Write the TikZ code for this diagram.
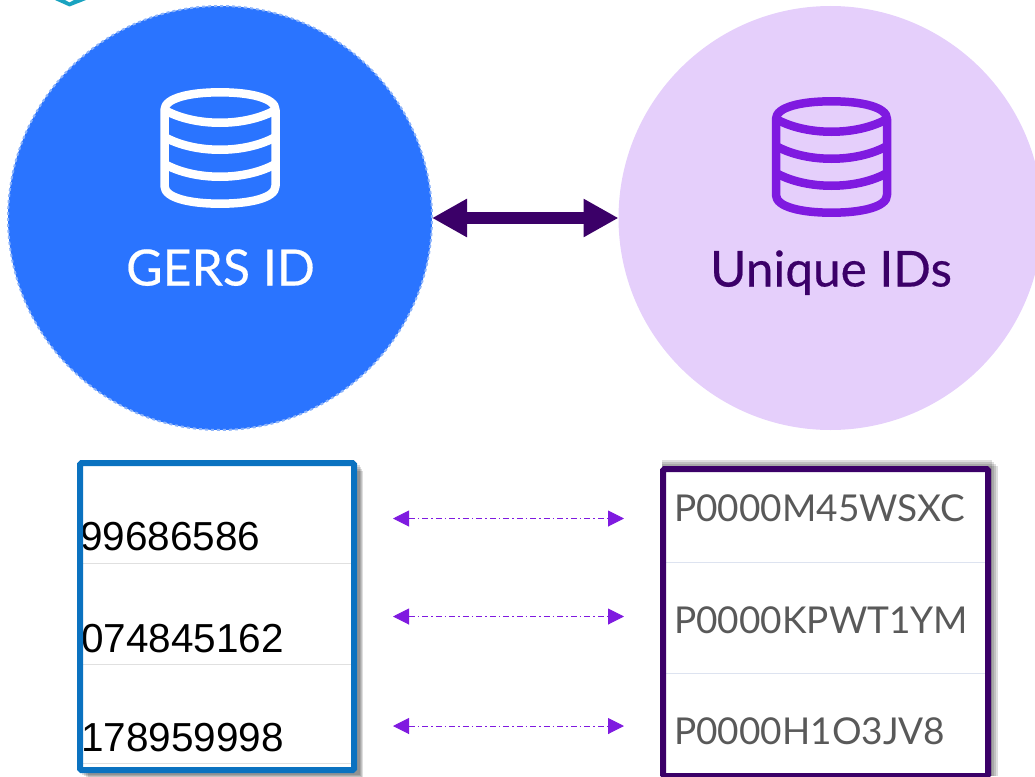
\documentclass[tikz,border=0pt]{standalone}
\usepackage{fontspec}
\setmainfont{Lato}
\newfontfamily\arialf{Liberation Sans}
\newfontfamily\labelf[FakeBold=0.4]{Lato}
\usetikzlibrary{arrows.meta}
\definecolor{gersblue}{HTML}{2A74FF}
\definecolor{gersedge}{HTML}{8DB4FA}
\definecolor{lilac}{HTML}{E5CFFB}
\definecolor{vio}{HTML}{7F1AE0}
\definecolor{deep}{HTML}{3B0068}
\definecolor{boxblue}{HTML}{0B72C0}
\definecolor{tealmark}{HTML}{1AA3C0}
\definecolor{seprow}{HTML}{DDE3F0}
\tikzset{
  x=1pt,y=-1pt,
  bigcircle/.style={circle,minimum size=424pt,inner sep=0pt,outer sep=0pt},
  bigarrow/.style={draw=deep,line width=12.5pt,{Triangle[length=35pt,width=36pt]}-{Triangle[length=35pt,width=36pt]}},
  smallarrow/.style={draw=vio,line width=1pt,dash pattern=on 6pt off 3pt on 1.5pt off 3pt,{Triangle[length=16pt,width=16pt]}-{Triangle[length=16pt,width=16pt]}},
  sepline/.style={line width=1pt},
  softshadow/.style={fill=black,fill opacity=0.13},
  numtext/.style={font=\arialf\fontsize{40.5}{40.5}\selectfont,text=black,anchor=base west,inner sep=0pt},
  codetext/.style={font=\fontsize{37}{37}\selectfont,text=black!65,anchor=base west,inner sep=0pt},
  biglabel/.style={anchor=base,inner sep=0pt},
  dbicon/.pic={
    \draw[line width=8.5pt,line join=round,pic actions]
      (-55.5,-38) .. controls (-55.5,-50) and (-30,-55.7) .. (0,-55.7)
      .. controls (30,-55.7) and (55.5,-50) .. (55.5,-38)
      -- (55.5,38) .. controls (55.5,50) and (30,55.7) .. (0,55.7)
      .. controls (-30,55.7) and (-55.5,50) .. (-55.5,38) -- cycle;
    \draw[line width=8.5pt,pic actions] (-55.5,-38) .. controls (-25,-21) and (25,-21) .. (55.5,-38);
    \draw[line width=8.5pt,pic actions] (-55.5,-11) .. controls (-25,6) and (25,6) .. (55.5,-11);
    \draw[line width=8.5pt,pic actions] (-55.5,16) .. controls (-25,33) and (25,33) .. (55.5,16);
  }
}
\begin{document}
\begin{tikzpicture}
\useasboundingbox (0,0) rectangle (1035,776);
\clip (0,0) rectangle (1035,776);
% teal corner mark
\fill[tealmark] (55,0) -- (69.5,6.5) -- (86,0) -- (74,0) -- (69.5,2.5) -- (65,0) -- cycle;
% circles
\node[bigcircle,fill=gersblue,draw=gersedge,line width=2pt,dashed] (gers) at (220,218) {};
\node[bigcircle,fill=lilac] (unique) at (830.5,218) {};
\pic[draw=white] at (220,148) {dbicon};
\pic[draw=vio] at (831.5,157) {dbicon};
\node[biglabel,font=\labelf\fontsize{50}{50}\selectfont,text=white] (gerslabel) at (220.5,285.5) {GERS ID};
\node[biglabel,font=\labelf\fontsize{49.5}{50}\selectfont,text=deep] (uniquelabel) at (831,286.5) {Unique IDs};
\draw[bigarrow] (gers) -- (unique);
% left table
\foreach \d in {2,4,6,8}{\fill[softshadow] (80+\d,463+\d) rectangle (357+\d/2+1.5,773+\d/2+1);}
\fill[white] (80,463) rectangle (354,770);
\draw[black!12,sepline] (80,563.5) -- (354,563.5);
\draw[black!12,sepline] (80,664.5) -- (354,664.5);
\draw[black!12,sepline] (80,763.5) -- (354,763.5);
\begin{scope}
\clip (80,463) rectangle (354,770);
\node[numtext] (n1) at (80,550.5) {99686586};
\node[numtext] (n2) at (81,652) {074845162};
\node[numtext] (n3) at (81,751) {178959998};
\end{scope}
\draw[boxblue,line width=6pt,rounded corners=1.5pt] (80,463) rectangle (354,770);
% right table
\foreach \d in {2,4,6,8}{\fill[softshadow] (662,458+\d) rectangle (990+\d,776);}
\fill[white] (663,469) rectangle (988,776);
\draw[seprow,sepline] (663,562.3) -- (988,562.3);
\draw[seprow,sepline] (663,673.5) -- (988,673.5);
\node[codetext] (c1) at (674,521) {P0000M45WSXC};
\node[codetext] (c2) at (674,633) {P0000KPWT1YM};
\node[codetext] (c3) at (674,744) {P0000H1O3JV8};
\draw[deep,line width=6pt,rounded corners=1.5pt] (663,469) rectangle (988,776);
% small arrows
\coordinate (a1l) at (393,518.5);
\coordinate (a1r) at (624,518.5);
\coordinate (a2l) at (393,616.5);
\coordinate (a2r) at (624,616.5);
\coordinate (a3l) at (393,726);
\coordinate (a3r) at (624,726);
\draw[smallarrow] (a1l) -- (a1r);
\draw[smallarrow] (a2l) -- (a2r);
\draw[smallarrow] (a3l) -- (a3r);
\end{tikzpicture}
\end{document}
